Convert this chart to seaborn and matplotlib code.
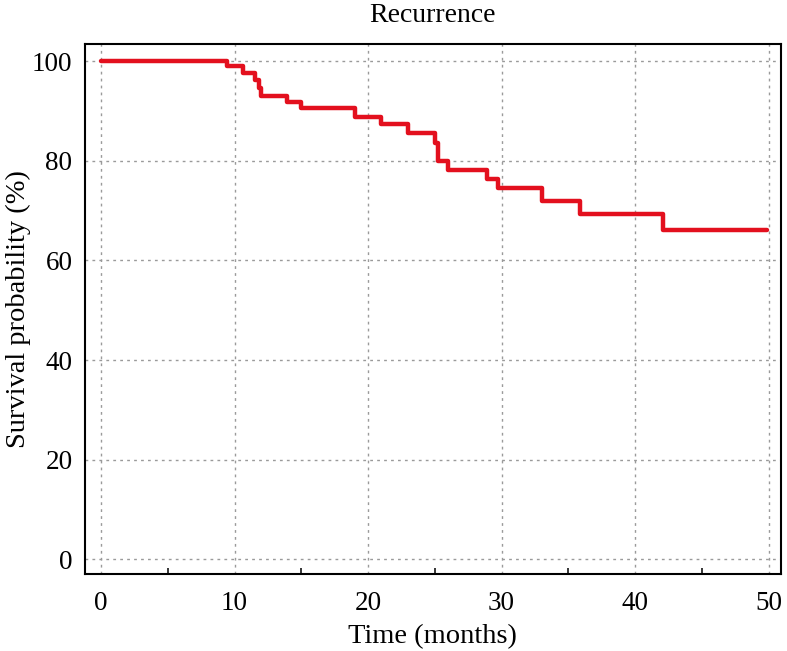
import matplotlib
matplotlib.use("Agg")
import matplotlib.pyplot as plt
import seaborn as sns
import pandas as pd
from matplotlib.ticker import MultipleLocator

times = [0, 9.4, 10.6, 11.5, 11.8, 12.0, 13.9, 15.0, 19.0, 21.0, 23.0, 25.0, 25.25,
         26.0, 28.9, 29.7, 33.0, 35.9, 42.1, 49.9]
survival = [100, 99.0, 97.6, 96.2, 94.6, 93.1, 91.8, 90.6, 88.8, 87.3, 85.5, 83.5, 79.9,
            78.2, 76.3, 74.6, 71.9, 69.4, 66.1, 66.1]
x_ticks = [0, 10, 20, 30, 40, 50]
y_ticks = [0, 20, 40, 60, 80, 100]

sns.set_theme(style="white")
plt.rcParams['font.family'] = ['Liberation Serif', 'DejaVu Serif']
plt.rcParams['text.color'] = 'black'
plt.rcParams['axes.labelcolor'] = 'black'
plt.rcParams['xtick.color'] = 'black'
plt.rcParams['ytick.color'] = 'black'

df = pd.DataFrame({"Time": times, "Survival": survival})

fig = plt.figure(figsize=(7.87, 6.51), dpi=100)
ax = fig.add_axes([0.108, 0.118, 0.884, 0.814])

sns.lineplot(data=df, x="Time", y="Survival", ax=ax, estimator=None,
             drawstyle="steps-post", color="#e3101e", linewidth=3.2, zorder=3)

ax.set_xlim(-1.2, 50.9)
ax.set_ylim(-3.0, 103.4)
ax.set_xticks(x_ticks)
ax.set_yticks(y_ticks)
ax.xaxis.set_minor_locator(MultipleLocator(5))

ax.grid(True, which="major", linestyle=(0, (2, 3)), color="#9a9a9a", linewidth=1.0)
for s in ax.spines.values():
    s.set_color("black")
    s.set_linewidth(1.5)

ax.tick_params(axis="both", which="major", direction="in", length=7, width=1.3,
               color="black", labelsize=19.5, labelcolor="black")
ax.tick_params(axis="x", which="major", pad=12)
ax.tick_params(axis="y", which="major", pad=9)
ax.tick_params(axis="x", which="minor", direction="in", length=4, width=1.1,
               color="black", bottom=True)
ax.tick_params(axis="both", top=False, right=False)

ax.set_xlabel("Time (months)", fontsize=20.5, labelpad=6, color="black")
ax.set_ylabel("Survival probability (%)", fontsize=20.5, labelpad=1, color="black")
ax.set_title("Recurrence", fontsize=20, pad=16, color="black")

fig.savefig("out.png", dpi=100)
